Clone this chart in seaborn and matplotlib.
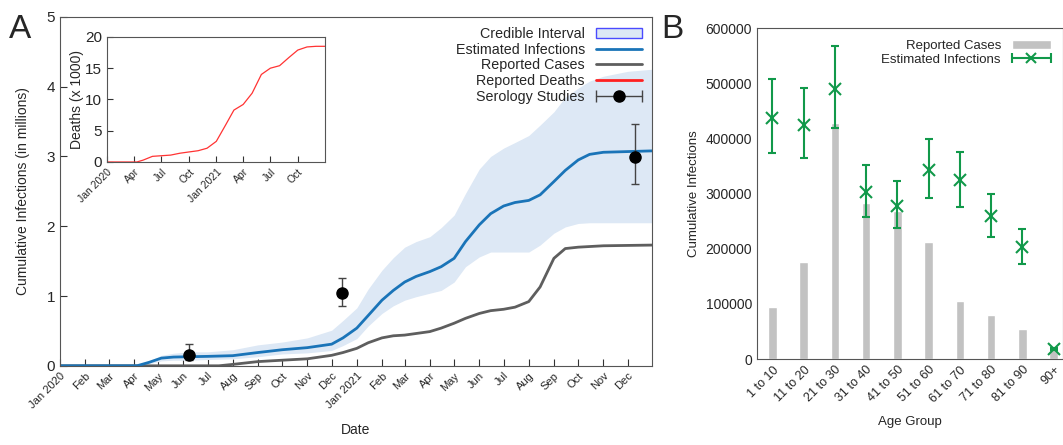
import matplotlib
matplotlib.use('Agg')
import matplotlib.pyplot as plt
from matplotlib.lines import Line2D
from matplotlib.patches import Patch
from matplotlib.legend_handler import HandlerLine2D, HandlerTuple
import numpy as np
import pandas as pd
import seaborn as sns

# ---- panel A data (millions) ----
est_dates = pd.to_datetime([
    '2020-01-01', '2020-04-05', '2020-04-20', '2020-05-05', '2020-05-20', '2020-06-08',
    '2020-07-01', '2020-08-01', '2020-09-01', '2020-10-01', '2020-11-01', '2020-12-01',
    '2020-12-15', '2021-01-01', '2021-01-15', '2021-02-01', '2021-02-15', '2021-03-01',
    '2021-03-15', '2021-04-01', '2021-04-15', '2021-05-01', '2021-05-15', '2021-06-01',
    '2021-06-15', '2021-07-01', '2021-07-15', '2021-08-01', '2021-08-15', '2021-09-01',
    '2021-09-15', '2021-10-01', '2021-10-15', '2021-11-01', '2021-12-01', '2021-12-31'])
est_infections = [0, 0, 0.05, 0.11, 0.125, 0.13,
                  0.135, 0.145, 0.19, 0.23, 0.26, 0.31,
                  0.40, 0.54, 0.72, 0.94, 1.08, 1.20,
                  1.28, 1.35, 1.42, 1.54, 1.78, 2.02,
                  2.18, 2.29, 2.34, 2.37, 2.45, 2.64,
                  2.80, 2.95, 3.03, 3.06, 3.07, 3.08]
ci_upper = [0, 0, 0.07, 0.15, 0.18, 0.20,
            0.20, 0.23, 0.30, 0.34, 0.40, 0.51,
            0.65, 0.83, 1.10, 1.37, 1.55, 1.70,
            1.78, 1.85, 1.98, 2.16, 2.47, 2.82,
            3.00, 3.12, 3.20, 3.30, 3.45, 3.64,
            3.85, 3.98, 4.08, 4.15, 4.22, 4.25]
ci_lower = [0, 0, 0.03, 0.07, 0.08, 0.08,
            0.09, 0.10, 0.13, 0.17, 0.185, 0.22,
            0.29, 0.39, 0.57, 0.75, 0.86, 0.94,
            0.99, 1.04, 1.08, 1.20, 1.42, 1.56,
            1.63, 1.63, 1.63, 1.63, 1.73, 1.90,
            1.99, 2.04, 2.05, 2.05, 2.05, 2.05]

case_dates = pd.to_datetime([
    '2020-01-01', '2020-07-15', '2020-08-01', '2020-09-01', '2020-10-01', '2020-11-01',
    '2020-12-01', '2020-12-15', '2021-01-01', '2021-01-15', '2021-02-01', '2021-02-15',
    '2021-03-01', '2021-04-01', '2021-04-15', '2021-05-01', '2021-05-15', '2021-06-01',
    '2021-06-15', '2021-07-01', '2021-07-15', '2021-08-01', '2021-08-15', '2021-09-01',
    '2021-09-15', '2021-10-01', '2021-11-01', '2021-12-31'])
reported_cases = [0, 0, 0.02, 0.06, 0.08, 0.10,
                  0.15, 0.19, 0.25, 0.33, 0.40, 0.43,
                  0.44, 0.49, 0.54, 0.61, 0.68, 0.75,
                  0.79, 0.81, 0.84, 0.92, 1.13, 1.54,
                  1.68, 1.70, 1.72, 1.73]

sero_dates = pd.to_datetime(['2020-06-08', '2020-12-14', '2021-12-10'])
sero_values = [0.15, 1.05, 2.99]
sero_low = [0.08, 0.86, 2.6]
sero_high = [0.31, 1.26, 3.47]

# ---- inset: deaths (x 1000) ----
death_dates = pd.to_datetime([
    '2020-01-01', '2020-04-10', '2020-05-01', '2020-06-01', '2020-07-01', '2020-08-01',
    '2020-09-01', '2020-10-01', '2020-11-01', '2020-12-01', '2021-01-01', '2021-02-01',
    '2021-03-01', '2021-04-01', '2021-05-01', '2021-06-01', '2021-07-01', '2021-08-01',
    '2021-09-01', '2021-10-01', '2021-11-01', '2021-12-01', '2021-12-31'])
deaths = [0, 0, 0.3, 0.9, 1.0, 1.1,
          1.4, 1.6, 1.8, 2.2, 3.3, 5.9,
          8.3, 9.2, 11.0, 14.0, 15.0, 15.4,
          16.7, 17.9, 18.4, 18.5, 18.5]

# ---- panel B data ----
age_groups = ['1 to 10', '11 to 20', '21 to 30', '31 to 40', '41 to 50',
              '51 to 60', '61 to 70', '71 to 80', '81 to 90', '90+']
cases_by_age = [95000, 176000, 428000, 283000, 268000, 213000, 106000, 80000, 55000, 20000]
est_by_age = [437000, 425000, 490000, 302000, 278000, 343000, 325000, 259000, 203000, 18000]
est_low = [374000, 364000, 418000, 258000, 237000, 292000, 276000, 221000, 173000, 16000]
est_high = [507000, 492000, 568000, 352000, 323000, 398000, 376000, 300000, 236000, 20000]

sns.set_style('ticks')
plt.rcParams['font.family'] = ['Liberation Sans', 'DejaVu Sans']

blue = '#1a74b8'
band = '#dde8f5'
grey_line = '#5e5e5e'
green = '#11994a'
bar_grey = '#c2c2c2'

fig = plt.figure(figsize=(10.63, 4.45), dpi=100)
ax = fig.add_axes([0.0564, 0.178, 0.557, 0.784])

ax.fill_between(est_dates, ci_lower, ci_upper, color=band, lw=0)
sns.lineplot(x=case_dates, y=reported_cases, ax=ax, color=grey_line, lw=2)
sns.lineplot(x=est_dates, y=est_infections, ax=ax, color=blue, lw=2)
sero_err = [np.array(sero_values) - np.array(sero_low), np.array(sero_high) - np.array(sero_values)]
ax.errorbar(sero_dates, sero_values, yerr=sero_err, fmt='o', color='black', ms=8,
            ecolor='#444444', elinewidth=1, capsize=3)

ax.set_xlim(pd.Timestamp('2020-01-01'), pd.Timestamp('2021-12-31'))
ax.set_ylim(0, 5)
ax.set_yticks(range(6))
months = pd.date_range('2020-01-01', '2021-12-01', freq='MS')
ax.set_xticks(months)
ax.set_xticklabels([m.strftime('%b %Y') if m.month == 1 else m.strftime('%b') for m in months],
                   rotation=45, ha='right', rotation_mode='anchor', fontsize=8)
ax.tick_params(axis='y', labelsize=11)
ax.tick_params(direction='in', length=5, color='#333333')
ax.set_xlabel('Date', fontsize=10, labelpad=9)
ax.set_ylabel('Cumulative Infections (in millions)', fontsize=10, labelpad=12)
for s in ax.spines.values():
    s.set_color('#555555')

# legend handles: errorbar drawn horizontally with caps, like the original
sero_bar = Line2D([], [], color='#444444', lw=1, marker='|', ms=8, mew=1)
sero_dot = Line2D([], [], color='black', marker='o', ls='none', ms=8)
handles = [Patch(facecolor=band, edgecolor='#4a4aff', lw=1),
           Line2D([], [], color=blue, lw=2),
           Line2D([], [], color=grey_line, lw=2),
           Line2D([], [], color='#ff2020', lw=2),
           (sero_bar, sero_dot)]
labels = ['Credible Interval', 'Estimated Infections', 'Reported Cases',
          'Reported Deaths', 'Serology Studies']
ax.legend(handles, labels, loc='upper right', frameon=False, markerfirst=False,
          fontsize=10.3, handlelength=3.2, labelspacing=0.12, borderaxespad=0.3,
          handler_map={sero_bar: HandlerLine2D(numpoints=2, marker_pad=0),
                       tuple: HandlerTuple(ndivide=1, pad=0)})

# inset
axi = fig.add_axes([0.1007, 0.636, 0.205, 0.281])
sns.lineplot(x=death_dates, y=deaths, ax=axi, color='#ff3333', lw=0.9)
axi.set_xlim(pd.Timestamp('2020-01-01'), pd.Timestamp('2021-12-31'))
axi.set_ylim(0, 20)
axi.set_yticks([0, 5, 10, 15, 20])
quarters = pd.date_range('2020-01-01', '2021-10-01', freq='QS')
axi.set_xticks(quarters)
axi.set_xticklabels([q.strftime('%b %Y') if q.month == 1 else q.strftime('%b') for q in quarters],
                    rotation=45, ha='right', rotation_mode='anchor', fontsize=7.5)
axi.tick_params(axis='y', labelsize=11)
axi.tick_params(direction='in', length=4, color='#333333')
axi.set_ylabel('Deaths (x 1000)', fontsize=10, labelpad=1)
axi.set_xlabel('')
for s in axi.spines.values():
    s.set_color('#555555')

# panel B
axb = fig.add_axes([0.712, 0.193, 0.288, 0.744])
sns.barplot(x=age_groups, y=cases_by_age, ax=axb, color=bar_grey, width=0.27,
            saturation=1, zorder=1)
pos = np.arange(len(age_groups))
b_err = [np.array(est_by_age) - np.array(est_low), np.array(est_high) - np.array(est_by_age)]
axb.errorbar(pos, est_by_age, yerr=b_err, fmt='x', color=green, ms=8, mew=1.5,
             elinewidth=1.5, capsize=3, zorder=3)
axb.set_xlim(-0.5, 9.3)
axb.set_ylim(0, 600000)
axb.set_yticks(range(0, 600001, 100000))
axb.set_xticks(pos)
axb.set_xticklabels(age_groups, rotation=45, ha='right', rotation_mode='anchor', fontsize=9)
axb.tick_params(axis='y', labelsize=10)
axb.tick_params(length=0)
axb.set_xlabel('Age Group', fontsize=9.5, labelpad=8)
axb.set_ylabel('Cumulative Infections', fontsize=9.5)
for s in axb.spines.values():
    s.set_color('#555555')
est_bar = Line2D([], [], color=green, lw=1.5, marker='|', ms=7, mew=1.5)
est_mark = Line2D([], [], color=green, marker='x', ls='none', ms=7, mew=1.5)
axb.legend([Patch(facecolor=bar_grey), (est_bar, est_mark)],
           ['Reported Cases', 'Estimated Infections'],
           loc='upper right', frameon=False, markerfirst=False, fontsize=9.5,
           handlelength=3, labelspacing=0.1, borderaxespad=0.5,
           handler_map={est_bar: HandlerLine2D(numpoints=2, marker_pad=0),
                        tuple: HandlerTuple(ndivide=1, pad=0)})

fig.text(0.008, 0.915, 'A', fontsize=24)
fig.text(0.622, 0.915, 'B', fontsize=24)

plt.savefig('out.png', dpi=100)
plt.close()
